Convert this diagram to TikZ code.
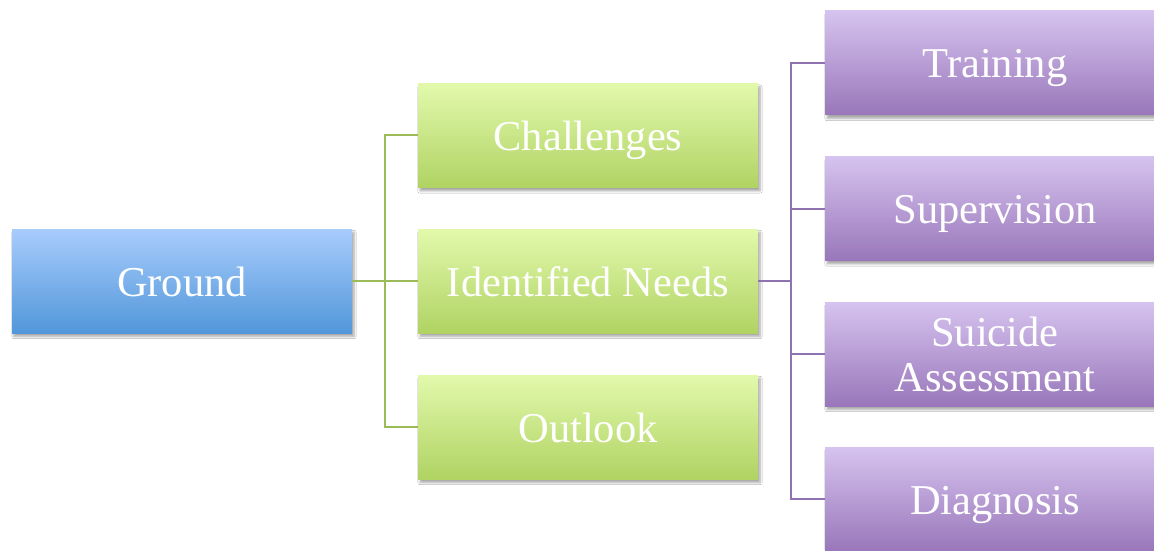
\documentclass[tikz,border=0pt]{standalone}
\usepackage{fontspec}
\setmainfont{Liberation Serif}
\usetikzlibrary{shadows.blur}
\definecolor{bluetop}{HTML}{A8CCFC}
\definecolor{bluebot}{HTML}{5197DA}
\definecolor{greentop}{HTML}{E2F9AC}
\definecolor{greenbot}{HTML}{B0D363}
\definecolor{purptop}{HTML}{D6C3EF}
\definecolor{purpbot}{HTML}{9977BA}
\definecolor{gline}{HTML}{9BBB59}
\definecolor{pline}{HTML}{8F72B0}
\tikzset{
  box/.style={rectangle, minimum width=340pt, minimum height=104pt, inner sep=0pt,
    text=white, align=center, font=\fontsize{42.5}{45}\selectfont,
    blur shadow={shadow xshift=2pt, shadow yshift=-3.5pt, shadow blur radius=2.2pt,
      shadow blur steps=6, shadow opacity=35}},
  oneline/.style={text height=30pt, text depth=0pt},
  rootbox/.style={box, oneline, top color=bluetop, bottom color=bluebot},
  midbox/.style={box, oneline, top color=greentop, bottom color=greenbot},
  leafbox/.style={box, oneline, top color=purptop, bottom color=purpbot},
  twoleafbox/.style={box, top color=purptop, bottom color=purpbot},
  glink/.style={draw=gline, line width=2pt},
  plink/.style={draw=pline, line width=2pt}
}
\begin{document}
\begin{tikzpicture}[x=1pt, y=1pt]
\clip (0,0) rectangle (1154,550);
\fill[white] (0,0) rectangle (1154,550);

% junction points of the two brackets
\coordinate (gj) at (385,269);
\coordinate (pj) at (791,269);

% boxes
\node[rootbox] (ground) at (182,269) {Ground};
\node[midbox] (chal) at (588,414.5) {Challenges};
\node[midbox] (need) at (588,269) {Identified Needs};
\node[midbox] (outl) at (588,123) {Outlook};
\node[leafbox] (train) at (995,487) {Training};
\node[leafbox] (superv) at (995,341.5) {Supervision};
\node[twoleafbox] (suic) at (995,196) {Suicide\\Assessment};
\node[leafbox] (diag) at (995,51) {Diagnosis};

% bracket connectors
\draw[glink] (ground.east) -- (gj);
\draw[glink] (gj) |- (chal.west);
\draw[glink] (gj) |- (outl.west);
\draw[glink] (gj) -- (need.west);
\draw[plink] (need.east) -- (pj);
\draw[plink] (pj) |- (train.west);
\draw[plink] (pj) |- (superv.west);
\draw[plink] (pj) |- (suic.west);
\draw[plink] (pj) |- (diag.west);
\end{tikzpicture}
\end{document}
